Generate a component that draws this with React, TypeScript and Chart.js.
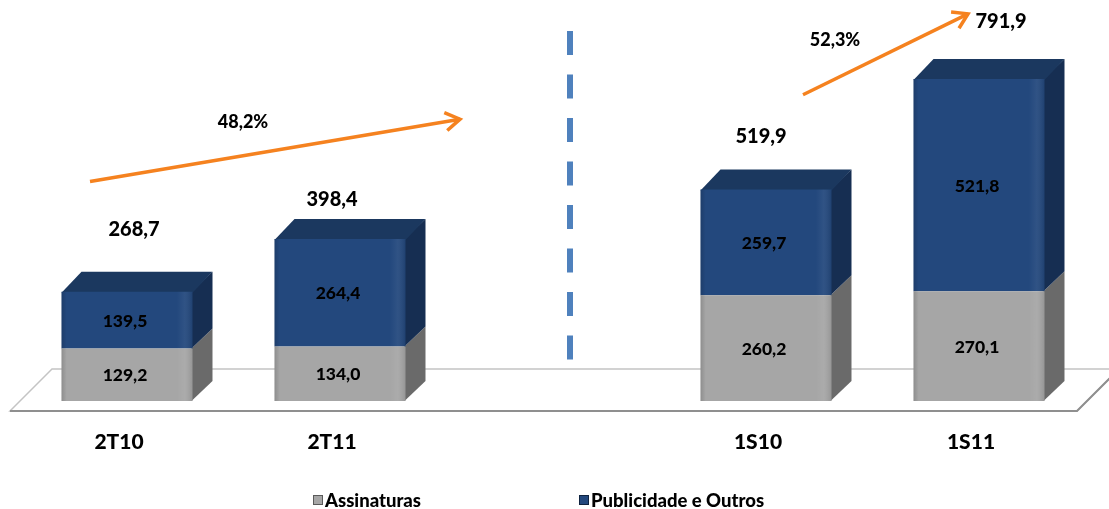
import { useEffect, useRef } from "react";
import { Chart, registerables } from "chart.js";

Chart.register(...registerables);

const categories = ["2T10", "2T11", "", "1S10", "1S11"];
const assinaturas: (number | null)[] = [129.2, 134.0, null, 260.2, 270.1];
const publicidade: (number | null)[] = [139.5, 264.4, null, 259.7, 521.8];
const totals: (number | null)[] = [268.7, 398.4, null, 519.9, 791.9];
const growthLabels = ["48,2%", "52,3%"];
const seriesNames = ["Assinaturas", "Publicidade e Outros"];

const FONT = "Lato, 'Open Sans', sans-serif";
const W8 = "900";
const GRAY = "#a6a6a6";
const GRAY_SIDE = "#6a6a6a";
const BLUE = "#23487d";
const BLUE_TOP = "#1b385f";
const BLUE_SIDE = "#162e52";
const ORANGE = "#f5821f";
const DASH_BLUE = "#4f81bd";
const DEPTH = 20;

// label placement tweaks (pixels) for total labels, relative to stack top
const totalOffsets = [
  { dx: 7, dy: -62 },
  { dx: -8, dy: -39 },
  { dx: 0, dy: 0 },
  { dx: -5, dy: -53 },
  { dx: 22, dy: -57 },
];

const fmt = (v: number) => v.toFixed(1).replace(".", ",");

function drawArrow(ctx: CanvasRenderingContext2D, x1: number, y1: number, x2: number, y2: number) {
  ctx.save();
  ctx.strokeStyle = ORANGE;
  ctx.lineWidth = 3.5;
  ctx.lineCap = "butt";
  ctx.lineJoin = "miter";
  ctx.beginPath();
  ctx.moveTo(x1, y1);
  ctx.lineTo(x2, y2);
  ctx.stroke();
  const ang = Math.atan2(y2 - y1, x2 - x1);
  const len = 17;
  const spread = (32 * Math.PI) / 180;
  ctx.beginPath();
  ctx.moveTo(x2 - len * Math.cos(ang - spread), y2 - len * Math.sin(ang - spread));
  ctx.lineTo(x2, y2);
  ctx.lineTo(x2 - len * Math.cos(ang + spread), y2 - len * Math.sin(ang + spread));
  ctx.stroke();
  ctx.restore();
}

const threeD = {
  id: "threeD",
  beforeDatasetsDraw(chart: any) {
    const ctx: CanvasRenderingContext2D = chart.ctx;
    const area = chart.chartArea;
    const xs = chart.scales.x;
    // floor
    const fy = area.bottom + 10;
    const by = area.bottom - 32;
    const fl = 10;
    const fr = 1077;
    const fd = 42;
    ctx.save();
    ctx.fillStyle = "#ffffff";
    ctx.beginPath();
    ctx.moveTo(fl, fy);
    ctx.lineTo(fr, fy);
    ctx.lineTo(fr + fd, by);
    ctx.lineTo(fl + fd, by);
    ctx.closePath();
    ctx.fill();
    ctx.strokeStyle = "#c4c4c4";
    ctx.lineWidth = 1.5;
    ctx.stroke();
    ctx.strokeStyle = "#8f8f8f";
    ctx.lineWidth = 2;
    ctx.beginPath();
    ctx.moveTo(fl, fy);
    ctx.lineTo(fr, fy);
    ctx.lineTo(fr + fd, by);
    ctx.stroke();
    ctx.restore();

    // dashed divider
    const dx = xs.getPixelForValue(2) + 17;
    ctx.save();
    ctx.strokeStyle = DASH_BLUE;
    ctx.lineWidth = 6;
    ctx.setLineDash([24, 19.5]);
    ctx.beginPath();
    ctx.moveTo(dx, 31);
    ctx.lineTo(dx, 362);
    ctx.stroke();
    ctx.restore();

    // 3D side and top faces
    const m0 = chart.getDatasetMeta(0);
    const m1 = chart.getDatasetMeta(1);
    const d = DEPTH;
    categories.forEach((_, i) => {
      if (assinaturas[i] == null || publicidade[i] == null) return;
      const g = m0.data[i];
      const b = m1.data[i];
      const R = g.x + g.width / 2;
      const L = g.x - g.width / 2;
      const bottom = g.base;
      const gTop = g.y;
      const bTop = b.y;
      ctx.save();
      ctx.fillStyle = GRAY_SIDE;
      ctx.beginPath();
      ctx.moveTo(R - 1, gTop);
      ctx.lineTo(R + d, gTop - d);
      ctx.lineTo(R + d, bottom - d);
      ctx.lineTo(R - 1, bottom);
      ctx.closePath();
      ctx.fill();
      ctx.fillStyle = BLUE_SIDE;
      ctx.beginPath();
      ctx.moveTo(R - 1, bTop);
      ctx.lineTo(R + d, bTop - d);
      ctx.lineTo(R + d, gTop - d);
      ctx.lineTo(R - 1, gTop);
      ctx.closePath();
      ctx.fill();
      ctx.fillStyle = BLUE_TOP;
      ctx.beginPath();
      ctx.moveTo(L, bTop + 1);
      ctx.lineTo(L + d, bTop - d);
      ctx.lineTo(R + d, bTop - d);
      ctx.lineTo(R, bTop + 1);
      ctx.closePath();
      ctx.fill();
      ctx.restore();
    });
  },
  afterDatasetsDraw(chart: any) {
    const ctx: CanvasRenderingContext2D = chart.ctx;
    const xs = chart.scales.x;
    const ys = chart.scales.y;
    const m0 = chart.getDatasetMeta(0);
    const m1 = chart.getDatasetMeta(1);

    // subtle shading on front faces
    categories.forEach((_, i) => {
      if (assinaturas[i] == null) return;
      [m0.data[i], m1.data[i]].forEach((el: any) => {
        const L = el.x - el.width / 2;
        const W = el.width;
        const top = Math.min(el.y, el.base);
        const H = Math.abs(el.base - el.y);
        const grad = ctx.createLinearGradient(L, 0, L + W, 0);
        grad.addColorStop(0, "rgba(0,0,0,0.15)");
        grad.addColorStop(0.04, "rgba(0,0,0,0)");
        grad.addColorStop(0.88, "rgba(255,255,255,0)");
        grad.addColorStop(0.94, "rgba(255,255,255,0.06)");
        grad.addColorStop(1, "rgba(0,0,0,0.1)");
        ctx.save();
        ctx.fillStyle = grad;
        ctx.fillRect(L, top, W, H);
        ctx.restore();
      });
    });

    ctx.save();
    ctx.fillStyle = "#000";
    ctx.textAlign = "center";
    ctx.textBaseline = "middle";
    // segment labels
    ctx.font = `${W8} 17.5px ${FONT}`;
    categories.forEach((_, i) => {
      if (assinaturas[i] == null || publicidade[i] == null) return;
      const g = m0.data[i];
      const b = m1.data[i];
      ctx.fillText(fmt(assinaturas[i] as number), g.x - 2, (g.y + g.base) / 2 + 1);
      ctx.fillText(fmt(publicidade[i] as number), b.x - 2, (b.y + b.base) / 2 + 1);
    });
    // totals
    ctx.font = `${W8} 20px ${FONT}`;
    categories.forEach((_, i) => {
      const t = totals[i];
      if (t == null) return;
      const b = m1.data[i];
      const o = totalOffsets[i];
      ctx.fillText(fmt(t), b.x + o.dx, b.y + o.dy);
    });

    // growth arrows
    drawArrow(ctx, xs.getPixelForValue(0) - 37, ys.getPixelForValue(540), xs.getPixelForValue(1) + 120, ys.getPixelForValue(693));
    drawArrow(ctx, xs.getPixelForValue(3) + 37, ys.getPixelForValue(753), xs.getPixelForValue(4) - 11, ys.getPixelForValue(952));
    ctx.font = `${W8} 18px ${FONT}`;
    ctx.fillText(growthLabels[0], xs.getPixelForValue(0) + 116, ys.getPixelForValue(685));
    ctx.fillText(growthLabels[1], xs.getPixelForValue(3) + 69, ys.getPixelForValue(888));

    // legend
    ctx.textAlign = "left";
    ctx.font = `${W8} 18.5px ${FONT}`;
    const legendY = 500;
    const items = [
      { x: 313, fill: GRAY, stroke: "#5a5a5a", text: seriesNames[0] },
      { x: 579, fill: BLUE, stroke: "#0f2340", text: seriesNames[1] },
    ];
    items.forEach((it) => {
      ctx.fillStyle = it.fill;
      ctx.fillRect(it.x, legendY - 5, 10, 10);
      ctx.strokeStyle = it.stroke;
      ctx.lineWidth = 1;
      ctx.strokeRect(it.x + 0.5, legendY - 4.5, 9, 9);
      ctx.fillStyle = "#000";
      ctx.fillText(it.text, it.x + 12, legendY + 1);
    });
    ctx.restore();
  },
};

export default function App() {
  const ref = useRef<HTMLCanvasElement>(null);
  useEffect(() => {
    if (!ref.current) return;
    const chart = new Chart(ref.current, {
      type: "bar",
      data: {
        labels: categories,
        datasets: [
          { label: seriesNames[0], data: assinaturas, backgroundColor: GRAY, stack: "s" },
          { label: seriesNames[1], data: publicidade, backgroundColor: BLUE, stack: "s" },
        ],
      },
      options: {
        animation: false,
        responsive: true,
        maintainAspectRatio: false,
        layout: { padding: { left: 20.5, right: 23.5, top: 35, bottom: 24.8 } },
        plugins: { legend: { display: false }, tooltip: { enabled: false } },
        datasets: { bar: { categoryPercentage: 1, barPercentage: 0.615 } },
        scales: {
          x: {
            stacked: true,
            grid: { display: false, drawTicks: false },
            border: { display: false },
            ticks: {
              padding: 29,
              labelOffset: -8,
              color: "#000",
              autoSkip: false,
              maxRotation: 0,
              font: { family: FONT, size: 21, weight: W8 },
            },
          },
          y: { stacked: true, display: false, min: 0, max: 900 },
        },
      } as any,
      plugins: [threeD],
    });
    return () => chart.destroy();
  }, []);
  return (
    <div style={{ position: "fixed", left: 0, top: 0, width: 1109, height: 509, background: "#fff" }}>
      <canvas ref={ref} />
    </div>
  );
}
